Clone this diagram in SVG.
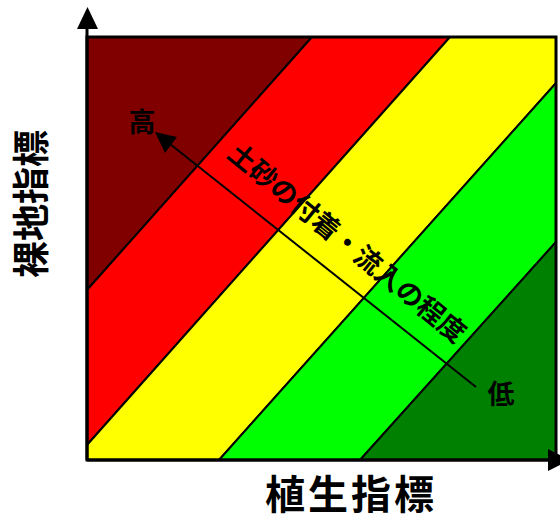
<svg xmlns="http://www.w3.org/2000/svg" width="560" height="520" viewBox="0 0 560 520">
<style>
.band{stroke:#000;stroke-width:2;stroke-linejoin:miter}
.lbl{font-family:"Noto Sans CJK JP","Noto Sans CJK SC",sans-serif;font-weight:bold;fill:#000}
</style>
<rect width="560" height="520" fill="#fff"/>
<g id="bands">
<polygon id="band-darkred" class="band" fill="#800000" points="87,37 312,37 87,290"/>
<polygon id="band-red" class="band" fill="#FF0000" points="312,37 450,37 87,445 87,290"/>
<polygon id="band-yellow" class="band" fill="#FFFF00" points="450,37 556,37 556,83 219,460 87,460 87,445"/>
<polygon id="band-green" class="band" fill="#00FF00" points="556,83 556,242 360,460 219,460"/>
<polygon id="band-darkgreen" class="band" fill="#008000" points="556,242 556,460 360,460"/>
<rect x="87" y="37" width="469" height="423" fill="none" stroke="#000" stroke-width="3"/>
</g>
<g id="connectors">
<line x1="87" y1="460" x2="87" y2="29" stroke="#000" stroke-width="3"/>
<polygon points="77,29 98,29 87.5,7" fill="#000"/>
<line x1="87" y1="460" x2="548" y2="460" stroke="#000" stroke-width="3"/>
<polygon points="548,449 548,471 570,460" fill="#000"/>
<line x1="476" y1="387" x2="170" y2="144" stroke="#000" stroke-width="2"/>
<polygon points="155,132 165,153 177,137" fill="#000"/>
</g>
<g id="labels">
<text class="lbl" x="142" y="132" font-size="27" text-anchor="middle">高</text>
<text class="lbl" x="501" y="404" font-size="27" text-anchor="middle">低</text>
<text class="lbl" font-size="27" text-anchor="middle" transform="translate(347,243) rotate(39.2)" y="9.5">土砂の付着・流入の程度</text>
<text class="lbl" font-size="37" text-anchor="middle" transform="translate(32,204) rotate(-90)" y="13">裸地指標</text>
<text class="lbl" x="351" y="509" font-size="40" letter-spacing="3" text-anchor="middle">植生指標</text>
</g>
</svg>
